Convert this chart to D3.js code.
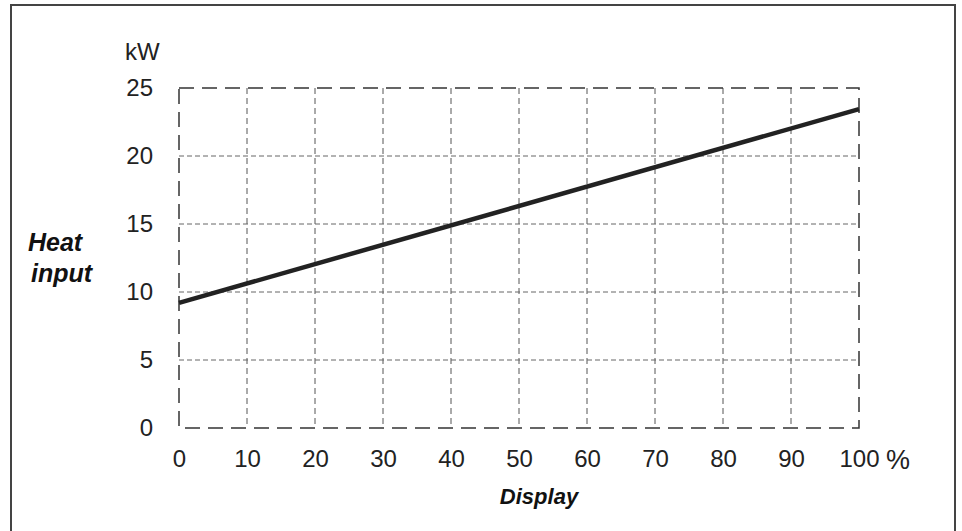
<!DOCTYPE html>
<html>
<head>
<meta charset="utf-8">
<script src="https://cdn.jsdelivr.net/npm/d3@7"></script>
<style>
    html, body { margin: 0; padding: 0; background: #fff; }
    svg { display: block; font-family: Arial, "Liberation Sans", Helvetica, sans-serif; }
</style>
</head>
<body>
<svg id="chart" width="962" height="531"></svg>
<script>
// Heat input vs. display setting (straight line)
const displayPct = [0, 100];
const heatInputKw = [9.2, 23.45];
const xTicks = [0, 10, 20, 30, 40, 50, 60, 70, 80, 90, 100];
const yTicks = [0, 5, 10, 15, 20, 25];

const svg = d3.select('#chart');
const margin = { top: 88, right: 103, bottom: 103, left: 179 };
const width = 962 - margin.left - margin.right;
const height = 531 - margin.top - margin.bottom;

// outer box (bottom edge runs off the picture)
svg.append('rect')
    .attr('x', 11).attr('y', 5)
    .attr('width', 944).attr('height', 540)
    .attr('fill', 'none')
    .attr('stroke', '#444')
    .attr('stroke-width', 2);

const g = svg.append('g').attr('transform', `translate(${margin.left},${margin.top})`);

const x = d3.scaleLinear().domain([0, 100]).range([0, width]);
const y = d3.scaleLinear().domain([0, 25]).range([height, 0]);

// inner grid
g.selectAll('.vgrid')
    .data(xTicks.slice(1, -1))
    .join('line')
    .attr('x1', d => x(d)).attr('x2', d => x(d))
    .attr('y1', 0).attr('y2', height)
    .attr('stroke', '#555')
    .attr('stroke-width', 1)
    .attr('stroke-dasharray', '6,4');

g.selectAll('.hgrid')
    .data(yTicks.slice(1, -1))
    .join('line')
    .attr('x1', 0).attr('x2', width)
    .attr('y1', d => y(d)).attr('y2', d => y(d))
    .attr('stroke', '#666')
    .attr('stroke-width', 1)
    .attr('stroke-dasharray', '5,3');

// dashed frame
g.append('rect')
    .attr('x', 0).attr('y', 0)
    .attr('width', width).attr('height', height)
    .attr('fill', 'none')
    .attr('stroke', '#333')
    .attr('stroke-width', 1.5)
    .attr('stroke-dasharray', '15,8');

// axes (labels only)
const xAxis = g.append('g')
    .attr('transform', `translate(0,${height})`)
    .call(d3.axisBottom(x).tickValues(xTicks).tickSize(0).tickPadding(22).tickFormat(d3.format('d')));
const yAxis = g.append('g')
    .call(d3.axisLeft(y).tickValues(yTicks).tickSize(0).tickPadding(26).tickFormat(d3.format('d')));

[xAxis, yAxis].forEach(ax => {
    ax.select('.domain').remove();
    ax.selectAll('text')
        .attr('fill', '#222')
        .attr('font-size', '24px')
        .attr('font-family', 'Arial, "Liberation Sans", sans-serif');
});

// the line
const line = d3.line()
    .x((d, i) => x(displayPct[i]))
    .y(d => y(d));

g.append('path')
    .datum(heatInputKw)
    .attr('d', line)
    .attr('fill', 'none')
    .attr('stroke', '#222')
    .attr('stroke-width', 4.5);

// unit + titles
g.append('text')
    .attr('x', -54).attr('y', -28)
    .attr('fill', '#222').attr('font-size', '24px')
    .text('kW');

g.append('text')
    .attr('x', x(100) + 27).attr('y', height + 41)
    .attr('fill', '#222').attr('font-size', '27px')
    .text('%');

g.append('text')
    .attr('x', x(50) + 20).attr('y', height + 76)
    .attr('text-anchor', 'middle')
    .attr('fill', '#111').attr('font-size', '22px')
    .attr('font-weight', 'bold').attr('font-style', 'italic')
    .text('Display');

const ttl = svg.append('text')
    .attr('fill', '#111').attr('font-size', '25px')
    .attr('font-weight', 'bold').attr('font-style', 'italic');
ttl.append('tspan').attr('x', 28).attr('y', 251).text('Heat');
ttl.append('tspan').attr('x', 31).attr('y', 282).text('input');
</script>
</body>
</html>
